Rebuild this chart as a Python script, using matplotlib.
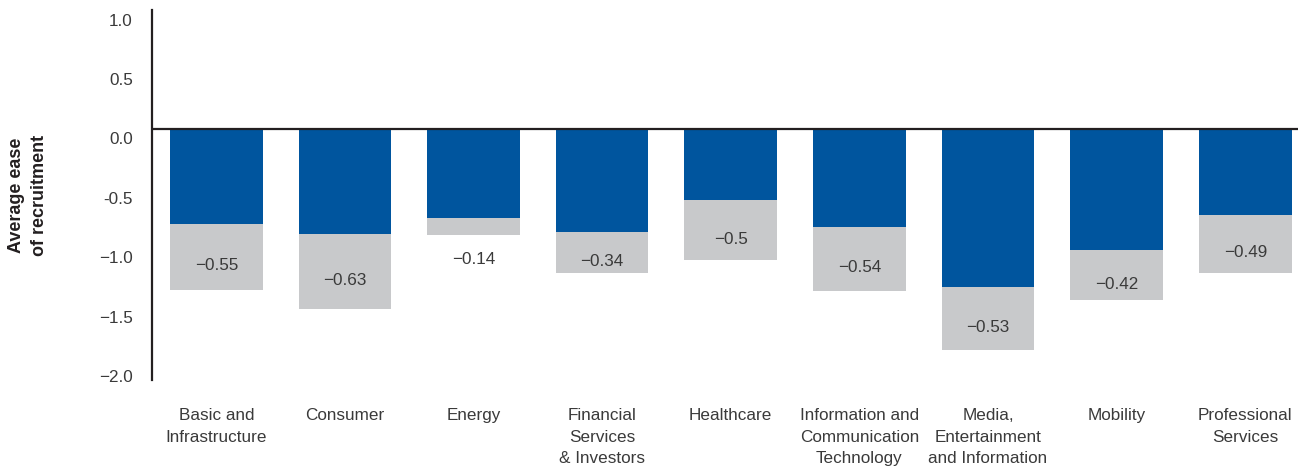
import matplotlib
matplotlib.use("Agg")
import matplotlib.pyplot as plt
from matplotlib.transforms import ScaledTranslation, blended_transform_factory

plt.rcParams['font.family'] = ['Liberation Sans', 'DejaVu Sans']

categories = ["Basic and\nInfrastructure", "Consumer", "Energy",
              "Financial\nServices\n& Investors", "Healthcare",
              "Information and\nCommunication\nTechnology",
              "Media,\nEntertainment\nand Information", "Mobility",
              "Professional\nServices"]
blue_vals = [-0.80, -0.88, -0.75, -0.87, -0.60, -0.82, -1.33, -1.02, -0.72]
grey_vals = [-0.55, -0.63, -0.14, -0.34, -0.50, -0.54, -0.53, -0.42, -0.49]
grey_labels = ["\u22120.55", "\u22120.63", "\u22120.14", "\u22120.34", "\u22120.5",
               "\u22120.54", "\u22120.53", "\u22120.42", "\u22120.49"]
yticks = [1.0, 0.5, 0.0, -0.5, -1.0, -1.5, -2.0]
ytick_labels = ["1.0", "0.5", "0.0", "-0.5", "\u22121.0", "\u22121.5", "\u22122.0"]

BLUE = "#00559e"
GREY = "#c8c9cb"
TXT = "#3a3a3a"
W, H = 1298, 466
fig = plt.figure(figsize=(W / 100, H / 100), dpi=100)
ax = fig.add_axes([152 / W, 1 - 380 / H, 1 - 152 / W, 370 / H])

x = list(range(len(categories)))
ax.bar(x, blue_vals, width=0.72, color=BLUE, zorder=2)
ax.bar(x, grey_vals, width=0.72, bottom=blue_vals, color=GREY, zorder=2)
ax.axhline(0, color="#231f20", lw=1.6, zorder=3)

ax.set_xlim(-0.5, 8.41)
ax.set_ylim(-2.11, 1.0)

for s in ["top", "right", "bottom"]:
    ax.spines[s].set_visible(False)
ax.spines["left"].set_color("#231f20")
ax.spines["left"].set_linewidth(1.6)
ax.set_xticks([])
ax.set_yticks([])

# y tick labels (drawn slightly below their tick values as in the reference)
ytr = blended_transform_factory(ax.transAxes, ax.transData) + ScaledTranslation(-19 / 100, -11 / 100, fig.dpi_scale_trans)
for v, lab in zip(yticks, ytick_labels):
    ax.text(0, v, lab, transform=ytr, ha="right", va="center", fontsize=12.3, color=TXT)

# data labels in grey segments
for i, (b, g, lab) in enumerate(zip(blue_vals, grey_vals, grey_labels)):
    if abs(g) < 0.25:
        ax.annotate(lab, (i, b + g), xytext=(0, -25), textcoords="offset pixels",
                    ha="center", va="center", fontsize=12.3, color=TXT)
    else:
        ax.annotate(lab, (i, b + g / 2), xytext=(0, -9), textcoords="offset pixels",
                    ha="center", va="center", fontsize=12.3, color=TXT)

# category labels
ctr = blended_transform_factory(ax.transData, fig.transFigure)
for i, c in enumerate(categories):
    ax.text(i, 1 - 408 / H, c, transform=ctr, ha="center", va="top", fontsize=12.3,
            color=TXT, linespacing=1.55, clip_on=False)

fig.text(28 / W, 1 - 195 / H, "Average ease\nof recruitment", rotation=90, ha="center",
         va="center", fontsize=13, fontweight="bold", color="#231f20", linespacing=1.5)

fig.savefig("out.png", dpi=100)
